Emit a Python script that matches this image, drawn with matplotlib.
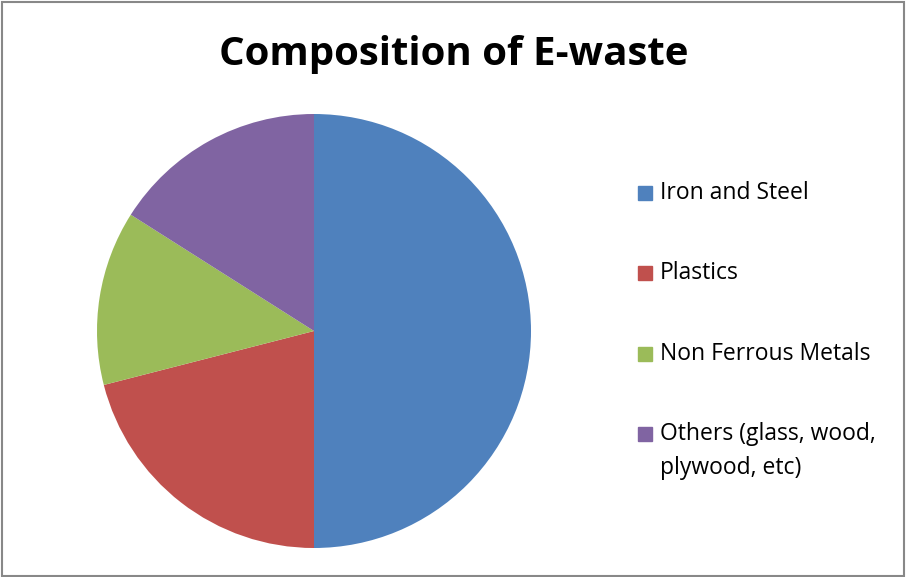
import matplotlib.pyplot as plt
from matplotlib.patches import Rectangle

# data
labels = ['Iron and Steel', 'Plastics', 'Non Ferrous Metals', 'Others (glass, wood,\nplywood, etc)']
values = [50, 21, 13, 16]
colors = ['#4F81BD', '#C0504D', '#9BBB59', '#8064A2']

plt.rcParams['font.family'] = ['Open Sans', 'DejaVu Sans']

W, H = 906, 577
fig = plt.figure(figsize=(W / 100, H / 100), dpi=100)

# pie axes: centre ~ (314, 331) px, radius ~217 px
ax = fig.add_axes([97 / W, (H - 548) / H, 434 / W, 434 / H])
ax.pie(values, colors=colors, startangle=90, counterclock=False,
       wedgeprops=dict(linewidth=0))
ax.set_xlim(-1, 1)
ax.set_ylim(-1, 1)
ax.set_aspect('equal')

fig.text(454 / W, 1 - 54 / H, 'Composition of E-waste', ha='center', va='center',
         fontsize=29, fontweight='bold')

# legend drawn by hand
rows_y = [193, 273, 354, 434]
line_gap = 34
for lab, col, yy in zip(labels, colors, rows_y):
    fig.patches.append(Rectangle((638 / W, 1 - (yy + 7) / H), 14 / W, 14 / H,
                                 transform=fig.transFigure, color=col))
    for k, part in enumerate(lab.split('\n')):
        fig.text(660 / W, 1 - (yy + k * line_gap) / H, part, ha='left', va='center',
                 fontsize=16.5)

# chart border
fig.patches.append(Rectangle((2 / W, 1 / H), (W - 4) / W, (H - 3) / H,
                             transform=fig.transFigure, fill=False,
                             edgecolor='#888888', linewidth=1.5))

fig.savefig('out.png', dpi=100)
